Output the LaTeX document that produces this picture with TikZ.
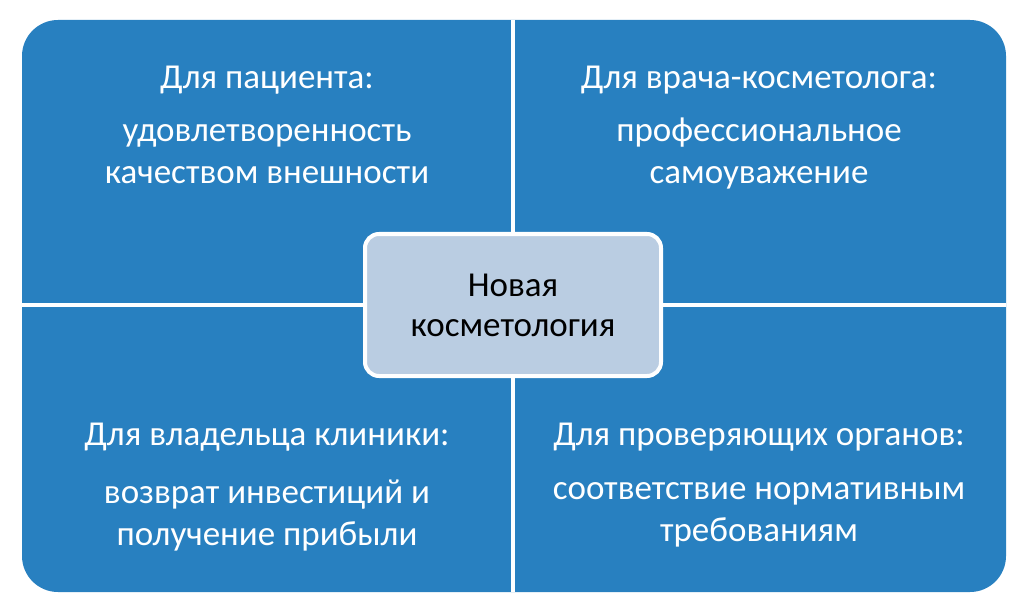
\documentclass[tikz,border=0pt]{standalone}
\usepackage{fontspec}
\setmainfont{Carlito}
\usetikzlibrary{positioning}
\definecolor{quadblue}{RGB}{40,128,192}
\definecolor{centrefill}{RGB}{186,205,226}
\tikzset{
  quadtext/.style={text=white, font=\fontsize{35}{42}\selectfont, align=center},
  centrebox/.style={draw=white, line width=4pt, fill=centrefill, rounded corners=14pt,
    minimum width=296pt, minimum height=142pt, font=\fontsize{35}{40}\selectfont, align=center}
}
\begin{document}
\begin{tikzpicture}[x=1pt, y=1pt]
\useasboundingbox (0,0) rectangle (1024,-612);

% panel and dividers
\fill[quadblue, rounded corners=36pt] (22,-20) rectangle (1006,-592);
\draw[white, line width=4pt] (513,-20) -- (513,-592);
\draw[white, line width=4pt] (22,-305) -- (1006,-305);

% quadrant texts
\node[quadtext] (patient) at (267,-80) {Для пациента:};
\node[quadtext] (patientgain) at (267,-154) {удовлетворенность\\качеством внешности};
\node[quadtext] (doctor) at (759,-80) {Для врача-косметолога:};
\node[quadtext] (doctorgain) at (759,-154) {профессиональное\\самоуважение};
\node[quadtext] (owner) at (267,-437) {Для владельца клиники:};
\node[quadtext] (ownergain) at (267,-515) {возврат инвестиций и\\получение прибыли};
\node[quadtext] (inspect) at (759,-437) {Для проверяющих органов:};
\node[quadtext] (inspectgain) at (759,-515) {соответствие нормативным\\требованиям};

% centre
\node[centrebox] (centre) at (513,-305) {Новая\\косметология};
\end{tikzpicture}
\end{document}
